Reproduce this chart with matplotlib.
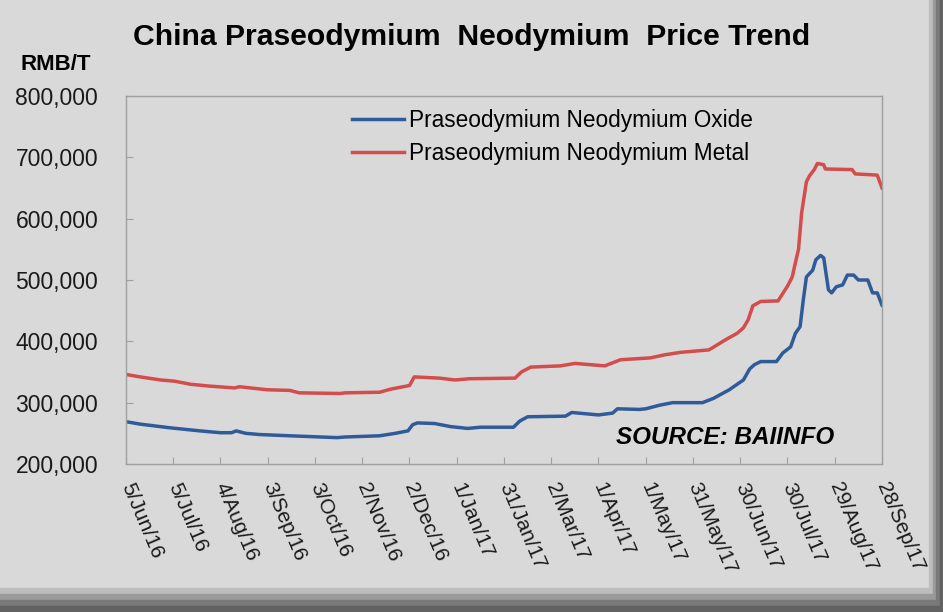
import numpy as np
import pandas as pd
import matplotlib
matplotlib.use("Agg")
import matplotlib.pyplot as plt
from matplotlib.patches import Rectangle
from matplotlib.ticker import FuncFormatter

plt.rcParams['font.family'] = ['Liberation Sans', 'DejaVu Sans']

# data: days since 5 Jun 2016 and price in RMB/T
start = pd.Timestamp("2016-06-05")

metal_days = [0, 9, 22, 31, 41, 53, 69, 72, 79, 90, 104, 110, 136, 139, 161, 168,
              174, 180, 183, 199, 209, 218, 247, 251, 257, 276, 285, 304, 314, 333,
              342, 352, 370, 374, 379, 383, 388, 392, 395, 398, 403, 414, 417, 420,
              423, 425, 427, 429, 432, 434, 437, 439, 443, 444, 461, 463, 477, 480]
metal_price = [346000, 342000, 337000, 335000, 330000, 327000, 324000, 326000, 324000,
               321000, 320000, 316000, 315000, 316000, 317000, 322000, 325000, 328000,
               342000, 340000, 337000, 339000, 340000, 350000, 358000, 360000, 364000,
               360000, 370000, 373000, 378000, 382000, 386000, 392000, 400000, 406000,
               413000, 422000, 435000, 458000, 465000, 466000, 478000, 490000, 505000,
               528000, 550000, 610000, 660000, 670000, 680000, 690000, 688000, 681000,
               680000, 673000, 671000, 650000]

oxide_days = [0, 9, 28, 47, 60, 67, 70, 76, 85, 104, 134, 139, 161, 171, 179, 182,
              185, 196, 206, 217, 225, 246, 250, 255, 279, 283, 300, 309, 312, 326,
              330, 339, 347, 366, 373, 383, 392, 396, 399, 403, 413, 417, 422, 425,
              428, 430, 432, 436, 438, 441, 443, 446, 448, 451, 455, 458, 462, 465,
              471, 474, 477, 480]
oxide_price = [269000, 265000, 259000, 254000, 251000, 251000, 254000, 250000, 248000,
               246000, 243000, 244000, 246000, 250000, 254000, 264000, 267000, 266000,
               261000, 258000, 260000, 260000, 270000, 277000, 278000, 284000, 280000,
               283000, 290000, 289000, 290000, 296000, 300000, 300000, 307000, 321000,
               337000, 355000, 362000, 367000, 367000, 381000, 391000, 413000, 424000,
               467000, 505000, 516000, 533000, 540000, 536000, 484000, 479000, 489000,
               492000, 508000, 508000, 500000, 500000, 479000, 479000, 459000]

tick_labels = ["5/Jun/16", "5/Jul/16", "4/Aug/16", "3/Sep/16", "3/Oct/16", "2/Nov/16",
               "2/Dec/16", "1/Jan/17", "31/Jan/17", "2/Mar/17", "1/Apr/17", "1/May/17",
               "31/May/17", "30/Jun/17", "30/Jul/17", "29/Aug/17", "28/Sep/17"]
y_ticks = [200000, 300000, 400000, 500000, 600000, 700000, 800000]

metal_dates = start + pd.to_timedelta(metal_days, unit="D")
oxide_dates = start + pd.to_timedelta(oxide_days, unit="D")
tick_dates = start + pd.to_timedelta(np.arange(len(tick_labels)) * 30, unit="D")

bg = "#d9d9d9"
fig = plt.figure(figsize=(9.43, 6.12), dpi=100, facecolor=bg)

# shadowed frame at right and bottom
shades = ["#bdbdbd", "#9a9a9a", "#7a7a7a", "#626262"]
for i, c in enumerate(shades):
    fig.patches.append(Rectangle(((929 + i * 3.5) / 943, 0), 3.5 / 943, 1,
                                 transform=fig.transFigure, color=c, zorder=0))
    fig.patches.append(Rectangle((0, (24 - (i + 1) * 6) / 612), 1, 6 / 612,
                                 transform=fig.transFigure, color=c, zorder=0))

ax = fig.add_axes([126 / 943, 1 - 464 / 612, 756 / 943, 368 / 612])
ax.set_facecolor(bg)

ax.plot(oxide_dates, oxide_price, color="#2f5b9a", lw=2.5,
        label="Praseodymium Neodymium Oxide")
ax.plot(metal_dates, metal_price, color="#d44c4c", lw=2.5,
        label="Praseodymium Neodymium Metal")

ax.set_xlim(tick_dates[0], tick_dates[-1])
ax.set_ylim(200000, 800000)
ax.set_yticks(y_ticks)
ax.yaxis.set_major_formatter(FuncFormatter(lambda v, p: f"{int(v):,}"))
ax.set_xticks(tick_dates)
ax.set_xticklabels(tick_labels, rotation=-67, ha="left", va="center",
                   rotation_mode="anchor")

for s in ax.spines.values():
    s.set_color("#a0a0a0")
    s.set_linewidth(1.0)
ax.tick_params(axis="both", direction="in", length=5, color="#a0a0a0",
               labelcolor="#1a1a1a")
ax.tick_params(axis="y", pad=20, labelsize=16.5)
ax.tick_params(axis="x", pad=14, labelsize=15)

leg = ax.legend(loc="upper left", bbox_to_anchor=(0.272, 1.02), frameon=False,
                fontsize=16.3, handlelength=2.3, handletextpad=0.2,
                labelspacing=0.45)

ax.text(0.792, 0.073, "SOURCE: BAIINFO", transform=ax.transAxes, ha="center",
        va="center", fontsize=17.5, fontweight="bold", fontstyle="italic")

fig.text(0.5, 1 - 37 / 612, "China Praseodymium  Neodymium  Price Trend",
         ha="center", va="center", fontsize=21.7, fontweight="bold")
fig.text(20 / 943, 1 - 65 / 612, "RMB/T", ha="left", va="center",
         fontsize=16, fontweight="bold")

fig.savefig("out.png", dpi=100, facecolor=bg)
